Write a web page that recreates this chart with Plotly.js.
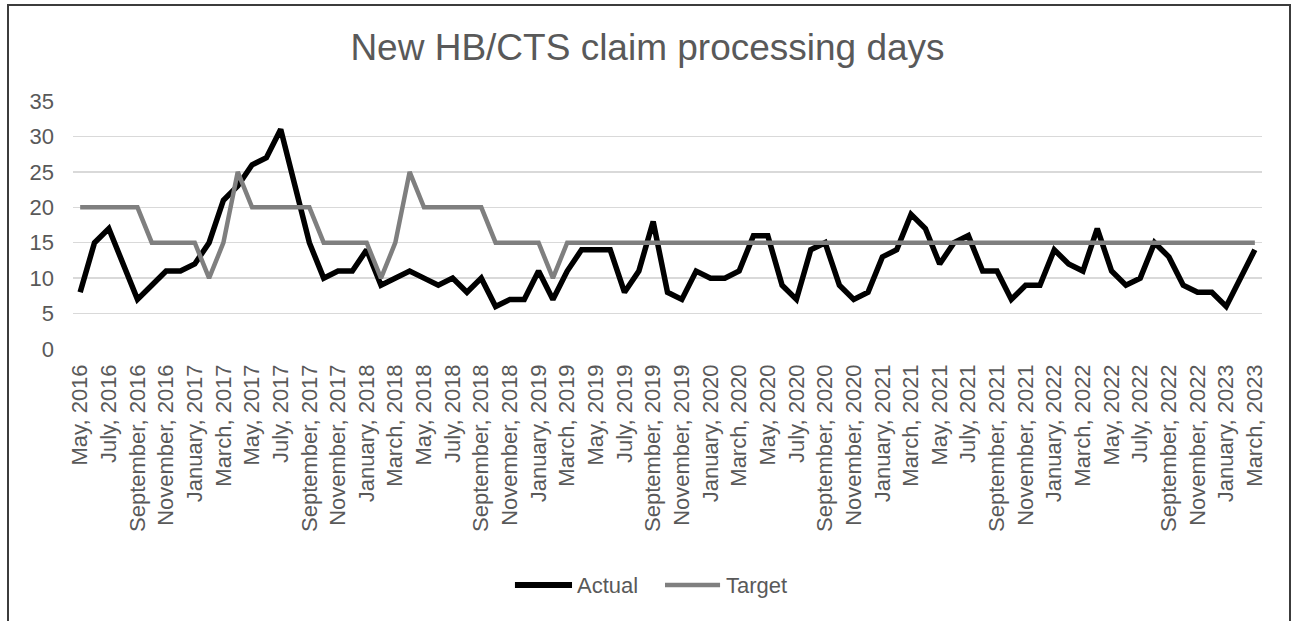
<!DOCTYPE html>
<html>
<head>
<meta charset="utf-8">
<script src="https://cdn.plot.ly/plotly-3.0.1.min.js"></script>
<style>
  html, body { margin: 0; padding: 0; background: #ffffff; overflow: hidden; }
  #chart { width: 1295px; height: 621px; position: absolute; left: 0; top: 0; }
  #frame { position: absolute; left: 7px; top: 4px; width: 1280px; height: 640px;
           border: 2px solid #3c3c3c; border-bottom: none; pointer-events: none; }
</style>
</head>
<body>
<div id="chart"></div>
<div id="frame"></div>
<script>
const months = [
  "May, 2016","June, 2016","July, 2016","August, 2016","September, 2016","October, 2016","November, 2016","December, 2016",
  "January, 2017","February, 2017","March, 2017","April, 2017","May, 2017","June, 2017","July, 2017","August, 2017",
  "September, 2017","October, 2017","November, 2017","December, 2017",
  "January, 2018","February, 2018","March, 2018","April, 2018","May, 2018","June, 2018","July, 2018","August, 2018",
  "September, 2018","October, 2018","November, 2018","December, 2018",
  "January, 2019","February, 2019","March, 2019","April, 2019","May, 2019","June, 2019","July, 2019","August, 2019",
  "September, 2019","October, 2019","November, 2019","December, 2019",
  "January, 2020","February, 2020","March, 2020","April, 2020","May, 2020","June, 2020","July, 2020","August, 2020",
  "September, 2020","October, 2020","November, 2020","December, 2020",
  "January, 2021","February, 2021","March, 2021","April, 2021","May, 2021","June, 2021","July, 2021","August, 2021",
  "September, 2021","October, 2021","November, 2021","December, 2021",
  "January, 2022","February, 2022","March, 2022","April, 2022","May, 2022","June, 2022","July, 2022","August, 2022",
  "September, 2022","October, 2022","November, 2022","December, 2022",
  "January, 2023","February, 2023","March, 2023"
];

const actual = [
  8, 15, 17, 12, 7, 9, 11, 11,
  12, 15, 21, 23, 26, 27, 31, 23, 15, 10, 11, 11,
  14, 9, 10, 11, 10, 9, 10, 8, 10, 6, 7, 7,
  11, 7, 11, 14, 14, 14, 8, 11, 18, 8, 7, 11,
  10, 10, 11, 16, 16, 9, 7, 14, 15, 9, 7, 8,
  13, 14, 19, 17, 12, 15, 16, 11, 11, 7, 9, 9,
  14, 12, 11, 17, 11, 9, 10, 15, 13, 9, 8, 8,
  6, 10, 14
];

const target = [
  20, 20, 20, 20, 20, 15, 15, 15,
  15, 10, 15, 25, 20, 20, 20, 20, 20, 15, 15, 15,
  15, 10, 15, 25, 20, 20, 20, 20, 20, 15, 15, 15,
  15, 10, 15, 15, 15, 15, 15, 15, 15, 15, 15, 15,
  15, 15, 15, 15, 15, 15, 15, 15, 15, 15, 15, 15,
  15, 15, 15, 15, 15, 15, 15, 15, 15, 15, 15, 15,
  15, 15, 15, 15, 15, 15, 15, 15, 15, 15, 15, 15,
  15, 15, 15
];

const seriesNames = ["Actual", "Target"];
const seriesColors = ["#000000", "#7f7f7f"];
const yTicks = [0, 5, 10, 15, 20, 25, 30, 35];
const xTickLabels = months.filter((m, i) => i % 2 === 0);

const FONT = "Liberation Sans, Arial, sans-serif";
const TXT = "#595959";

const traces = [
  {
    type: "scatter", mode: "lines", name: seriesNames[0],
    x: months, y: actual,
    line: { color: seriesColors[0], width: 5.5, shape: "linear" },
    hoverinfo: "x+y", showlegend: false
  },
  {
    type: "scatter", mode: "lines", name: seriesNames[1],
    x: months, y: target,
    line: { color: seriesColors[1], width: 4.5, shape: "linear" },
    hoverinfo: "x+y", showlegend: false
  }
];

// Custom legend (Excel-style long line swatches), placed in paper coordinates
const legY = -0.952;
const legItems = [
  { x0: 0.3717, x1: 0.4197, tx: 0.4225, w: 6 },
  { x0: 0.4979, x1: 0.5442, tx: 0.5475, w: 4.5 }
];
const shapes = legItems.map((it, i) => ({
  type: "line", xref: "paper", yref: "paper",
  x0: it.x0, x1: it.x1, y0: legY, y1: legY,
  line: { color: seriesColors[i], width: it.w }
}));
const annotations = legItems.map((it, i) => ({
  xref: "paper", yref: "paper", x: it.tx, y: legY,
  xanchor: "left", yanchor: "middle", showarrow: false,
  text: seriesNames[i],
  font: { family: FONT, size: 22, color: TXT }
}));

const layout = {
  width: 1295, height: 621,
  paper_bgcolor: "#ffffff", plot_bgcolor: "#ffffff",
  margin: { l: 73, r: 33, t: 101, b: 272, pad: 0 },
  font: { family: FONT, color: TXT, size: 22 },
  title: {
    text: "New HB/CTS claim processing days",
    font: { family: FONT, size: 37, color: TXT },
    x: 0.5, xanchor: "center", xref: "container",
    y: 1 - 47 / 621, yref: "container", yanchor: "middle"
  },
  showlegend: false,
  shapes: shapes,
  annotations: annotations,
  xaxis: {
    type: "category",
    range: [-0.5, months.length - 0.5],
    tickmode: "array", tickvals: xTickLabels, ticktext: xTickLabels,
    tickangle: -90,
    tickfont: { family: FONT, size: 22, color: TXT },
    showgrid: false, zeroline: false, showline: false,
    ticks: "", ticklabelstandoff: 10,
    fixedrange: true
  },
  yaxis: {
    range: [0, 35],
    tickmode: "array", tickvals: yTicks,
    tickfont: { family: FONT, size: 22, color: TXT },
    showgrid: true, gridcolor: "#d9d9d9", gridwidth: 1.5,
    zeroline: false, showline: false, ticks: "",
    ticklabelstandoff: 18,
    fixedrange: true
  }
};

Plotly.newPlot("chart", traces, layout, { displayModeBar: false, staticPlot: true });
</script>
</body>
</html>
